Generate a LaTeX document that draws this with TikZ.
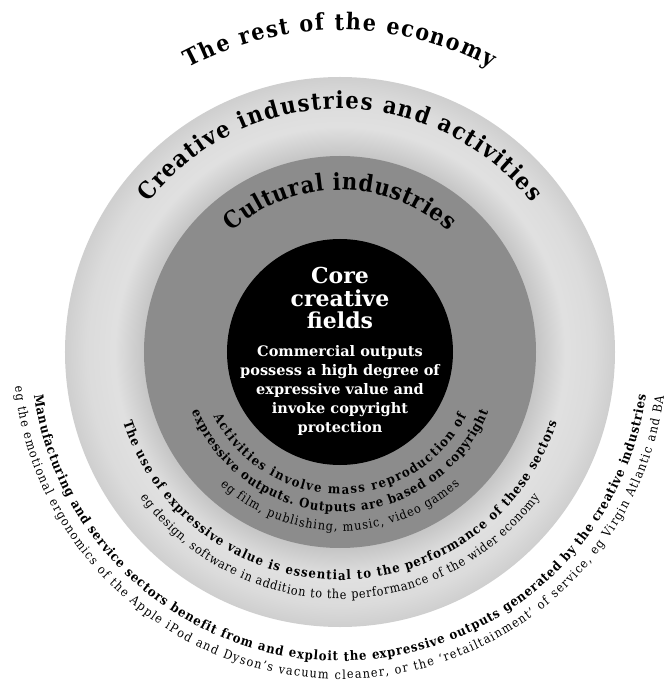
\documentclass[tikz,border=0pt]{standalone}
\usepackage{fontspec}
\setmainfont{DejaVu Serif}
\newfontfamily\arcserif{DejaVu Serif}[FakeStretch=0.9]
\usetikzlibrary{decorations.text}

\newcommand{\titlefont}{\arcserif\fontsize{23}{27}\selectfont\bfseries}
\newcommand{\ringfont}{\arcserif\fontsize{23.5}{27}\selectfont\bfseries}
\newcommand{\notebold}{\arcserif\fontsize{13}{15}\selectfont\bfseries}
\newcommand{\noteplain}{\arcserif\fontsize{12.5}{15}\selectfont}

% 外側の輪のぼかし (25bp = 外周)
\pgfdeclareradialshading{outer cloud}{\pgfpoint{0bp}{0bp}}{%
  color(0bp)=(black!24); color(17bp)=(black!24); color(18bp)=(black!22);
  color(20.5bp)=(black!12); color(23bp)=(black!14); color(25bp)=(black!19);
  color(50bp)=(black!19)}

\tikzset{
    ring outer/.style={
      shading=outer cloud
    },
    ring middle/.style={
      fill=black!45
    },
    ring core/.style={
      fill=black
    },
    arc text/.style={
      decorate,
      decoration={text along path, text align=fit to path, text={#1}}
    },
    core text/.style={
      text=white,
      align=center,
      inner sep=0pt
    }
  }

\begin{document}
\begin{tikzpicture}[x=1pt, y=1pt]
      \useasboundingbox (-340,-341) rectangle (329,352);

      % 同心円
      \shade[ring outer] (0,0) circle (275);
      \fill[ring middle] (0,0) circle (196);
      \fill[ring core] (0,0) circle (113);

      % 中心の文字
      \node[core text, font=\fontsize{22}{22.5}\selectfont\bfseries, anchor=north]
        (core title) at (0,85) {Core\\creative\\fields};
      \node[core text, font=\fontsize{14.5}{19}\selectfont\bfseries, anchor=north]
        (core body) at (0,7) {Commercial outputs\\possess a high degree of\\expressive value and\\invoke copyright\\protection};

      % 上の円弧
      \path[arc text={|\titlefont|The rest of the economy}]
        (118:322) arc[start angle=118, end angle=62, radius=322];
      \path[arc text={|\ringfont|Creative industries and activities}]
        (142:243) arc[start angle=142, end angle=38, radius=243];
      \path[arc text={|\ringfont|Cultural industries}]
        (132:162) arc[start angle=132, end angle=48, radius=162];

      % 下の円弧
      \path[arc text={|\notebold|Activities involve mass reproduction of}]
        (207:142) arc[start angle=207, end angle=333, radius=142];
      \path[arc text={|\notebold|expressive outputs. Outputs are based on copyright}]
        (202:160) arc[start angle=202, end angle=338, radius=160];
      \path[arc text={|\noteplain|eg film, publishing, music, video games}]
        (228:179) arc[start angle=228, end angle=312, radius=179];

      \path[arc text={|\notebold|The use of expressive value is essential to the performance of these sectors}]
        (198:228) arc[start angle=198, end angle=342, radius=228];
      \path[arc text={|\noteplain|eg design, software in addition to the performance of the wider economy}]
        (216:247) arc[start angle=216, end angle=324, radius=247];

      \path[arc text={|\notebold|Manufacturing and service sectors benefit from and exploit the expressive outputs generated by the creative industries}]
        (188:309) arc[start angle=188, end angle=352, radius=309];
      \path[arc text={|\noteplain|eg the emotional ergonomics of the Apple iPod and Dyson’s vacuum cleaner, or the ‘retailtainment’ of service, eg Virgin Atlantic and BA}]
        (186:327) arc[start angle=186, end angle=352, radius=327];
    \end{tikzpicture}
\end{document}
